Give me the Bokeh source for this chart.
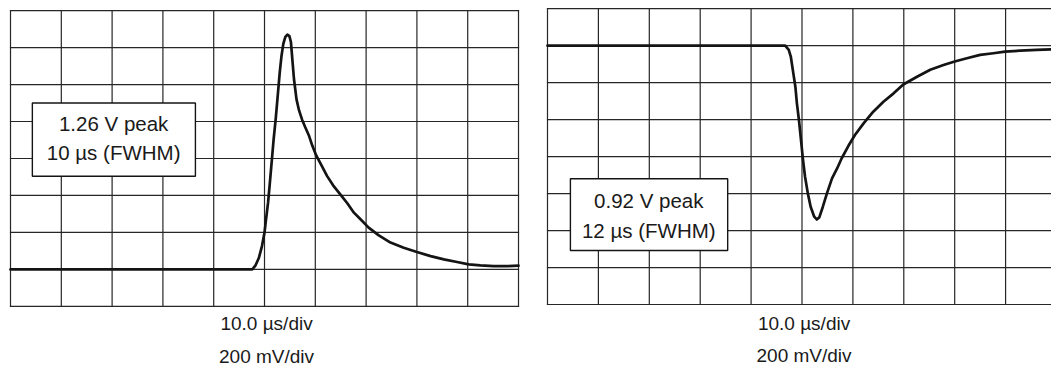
from bokeh.plotting import figure
from bokeh.layouts import row
from bokeh.models import BoxAnnotation, Label
from bokeh.embed import file_html
from bokeh.resources import INLINE

# ---- data (time in microseconds, voltage in volts) ----
left_t = [0, 47.6, 48.2, 48.9, 49.5, 50.0, 50.3, 50.7, 51.0, 51.4, 51.8, 52.2, 52.6, 53.0,
          53.35, 53.7, 54.1, 54.5, 54.9, 55.2, 55.5, 55.8, 56.3, 56.8, 57.4, 58.0, 58.8,
          59.4, 60.2, 61.35, 62.3, 63.5, 64.8, 66.3, 67.6, 68.9, 70.5, 72.5, 74.8, 77.4,
          80.0, 82.7, 85.3, 87.9, 90.2, 92.5, 95.1, 97.8, 100.0]
left_v = [0, 0, 0.02, 0.063, 0.126, 0.199, 0.271, 0.361, 0.452, 0.578, 0.705, 0.813, 0.939, 1.066,
          1.156, 1.22, 1.258, 1.27, 1.262, 1.23, 1.13, 1.03, 0.92, 0.86, 0.81, 0.77, 0.72,
          0.67, 0.615, 0.556, 0.506, 0.455, 0.41, 0.358, 0.307, 0.271, 0.226, 0.184, 0.145, 0.117,
          0.094, 0.072, 0.054, 0.04, 0.027, 0.022, 0.018, 0.018, 0.02]

right_t = [0, 46.7, 47.4, 47.8, 48.3, 48.7, 49.0, 49.4, 49.8, 50.2, 50.6, 51.15, 51.7, 52.4,
           52.9, 53.4, 54.1, 54.9, 55.9, 56.9, 57.8, 59.1, 60.4, 62.1, 64.0, 66.0, 68.0,
           69.9, 72.6, 75.2, 77.8, 80.0, 82.4, 85.0, 87.6, 89.9, 92.9, 96.1, 99.0]
right_v = [0, 0, -0.023, -0.059, -0.15, -0.222, -0.312, -0.402, -0.51, -0.618, -0.709, -0.799, -0.871, -0.925,
           -0.94, -0.929, -0.871, -0.799, -0.718, -0.664, -0.609, -0.543, -0.483, -0.42, -0.357, -0.303, -0.258,
           -0.21, -0.168, -0.13, -0.105, -0.086, -0.068, -0.05, -0.041, -0.032, -0.027, -0.023, -0.02]

time_ticks = [0, 10, 20, 30, 40, 50, 60, 70, 80, 90, 100]
left_volt_ticks = [-0.2, 0.0, 0.2, 0.4, 0.6, 0.8, 1.0, 1.2, 1.4]
right_volt_ticks = [-1.4, -1.2, -1.0, -0.8, -0.6, -0.4, -0.2, 0.0, 0.2]

left_box_text = ["1.26 V peak", "10 \u00b5s (FWHM)"]
right_box_text = ["0.92 V peak", "12 \u00b5s (FWHM)"]
scale_text = ["10.0 \u00b5s/div", "200 mV/div"]

FONT = "Liberation Sans"
GRID = "#262626"
INK = "#141414"


def make_panel(width, height, xr, yr, vticks):
    p = figure(width=width, height=height, x_range=xr, y_range=yr,
               x_axis_location=None, y_axis_location=None,
               toolbar_location=None, output_backend="svg",
               min_border_left=0, min_border_right=0,
               min_border_top=0, min_border_bottom=0)
    p.outline_line_color = None
    p.background_fill_color = "white"
    p.border_fill_color = "white"
    p.xgrid.visible = False
    p.ygrid.visible = False
    t0, t1 = time_ticks[0], time_ticks[-1]
    v0, v1 = vticks[0], vticks[-1]
    # graticule: vertical divisions
    p.segment(x0=time_ticks, y0=[v0] * len(time_ticks), x1=time_ticks, y1=[v1] * len(time_ticks),
              line_color=GRID, line_width=1.2, line_cap="square")
    # graticule: horizontal divisions
    p.segment(x0=[t0] * len(vticks), y0=vticks, x1=[t1] * len(vticks), y1=vticks,
              line_color=GRID, line_width=1.2, line_cap="square")
    return p


def add_box(p, l, r, b, t, cx, ys, texts):
    p.add_layout(BoxAnnotation(left=l, right=r, bottom=b, top=t,
                               fill_color="white", fill_alpha=1.0,
                               line_color=INK, line_width=1.4, line_alpha=1.0))
    for y, s in zip(ys, texts):
        p.add_layout(Label(x=cx, y=y, text=s, text_align="center", text_baseline="middle",
                           text_font=FONT, text_font_size="20.5px", text_color="#1a1a1a"))


def add_scale(p, cx, ys):
    for y, s in zip(ys, scale_text):
        p.add_layout(Label(x=cx, y=y, text=s, text_align="center", text_baseline="middle",
                           text_font=FONT, text_font_size="19px", text_color="#1a1a1a"))


p1 = make_panel(530, 367, (-1.97, 102.36), (-0.5307, 1.4547), left_volt_ticks)
p1.line(left_t, left_v, line_color=INK, line_width=2.7, line_join="round", line_cap="round")
add_box(p1, 4.3, 36.4, 0.504, 0.90, 20.3, [0.79, 0.63], left_box_text)
add_scale(p1, 50.4, [-0.2927, -0.4685])

p2 = make_panel(521, 367, (-3.34, 99.02), (-1.7407, 0.2443), right_volt_ticks)
p2.line(right_t, right_v, line_color=INK, line_width=2.7, line_join="round", line_cap="round")
add_box(p2, 4.5, 35.4, -1.108, -0.72, 19.9, [-0.837, -1.0], right_box_text)
add_scale(p2, 50.4, [-1.5026, -1.6783])

layout = row(p1, p2)
open("out.html", "w").write(file_html(layout, INLINE))
